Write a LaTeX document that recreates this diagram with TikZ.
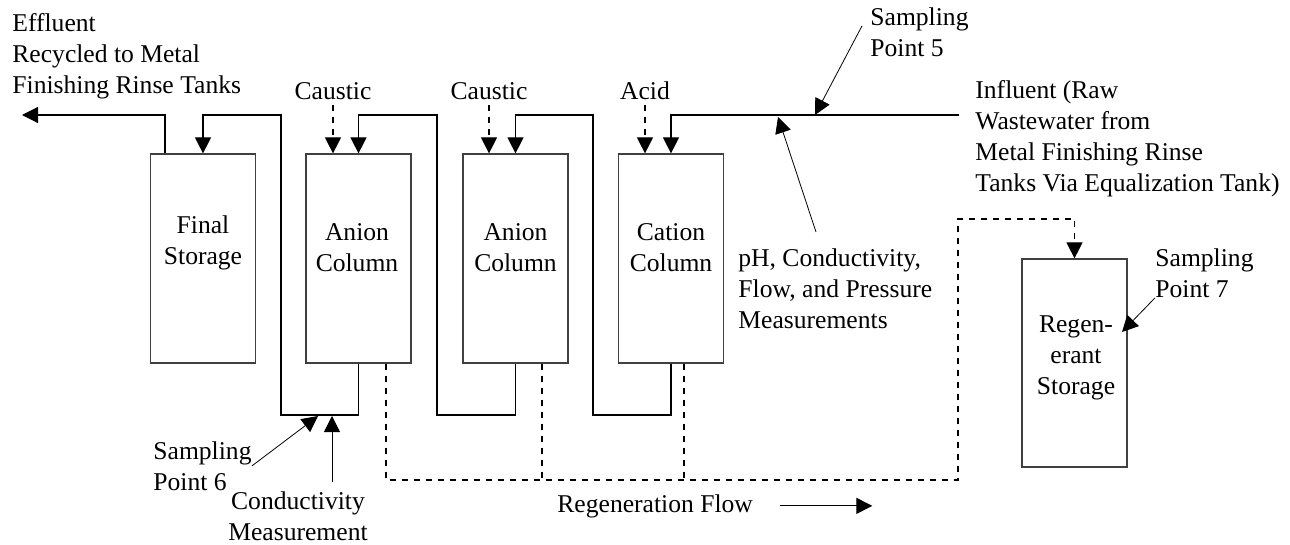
\documentclass[tikz,border=0pt]{standalone}
\usepackage{fontspec}
\setmainfont{Liberation Serif}
\usetikzlibrary{arrows.meta, calc}
\tikzset{tank/.style={draw=black!75, line width=0.6pt, minimum width=52.5pt, minimum height=104.5pt, inner sep=0pt},
  txt/.style={inner sep=0pt, font=\fontsize{12.8}{15.5}\selectfont},
  pipe/.style={line width=0.6pt},
  feed/.style={line width=0.6pt, dashed},
  pointer/.style={line width=0.4pt}}

\begin{document}
\begin{tikzpicture}[x=0.5pt, y=-0.5pt, >={Triangle[length=8pt,width=8pt]}]
    \useasboundingbox (0,0) rectangle (1290,545);
    % tanks and columns
    \node[tank] (fs) at (203,258.5) {};
    \node[tank] (an1) at (358.5,258.5) {};
    \node[tank] (an2) at (515.5,258.5) {};
    \node[tank] (cat) at (671,258.5) {};
    \node[tank, minimum height=104pt] (rs) at (1074.5,363) {};

    \node[txt, anchor=north, align=center] (fs-txt) at (203,215) {Final\\Storage};
    \node[txt, anchor=north, align=center] (an1-txt) at (357,223) {Anion\\Column};
    \node[txt, anchor=north, align=center] (an2-txt) at (515.5,223) {Anion\\Column};
    \node[txt, anchor=north, align=center] (cat-txt) at (671,223) {Cation\\Column};
    \node[txt, anchor=north, align=center] (rs-txt) at (1076,315) {Regen-\\erant\\Storage};

    % labels
    \node[txt, anchor=north west, align=left] (eff-txt) at (12,13) {Effluent\\Recycled to Metal\\Finishing Rinse Tanks};
    \node[txt, anchor=north west, align=left] (sp5) at (870,7) {Sampling\\Point 5};
    \node[txt, anchor=north west, align=left] (infl-txt) at (975,80) {Influent (Raw\\Wastewater from\\Metal Finishing Rinse\\Tanks Via Equalization Tank)};
    \node[txt, anchor=north west, align=left] (ph) at (738,248) {pH, Conductivity,\\Flow, and Pressure\\Measurements};
    \node[txt, anchor=north west, align=left] (sp6) at (153,441) {Sampling\\Point 6};
    \node[txt, anchor=north, align=center] (cond) at (298,491) {Conductivity\\Measurement};
    \node[txt, anchor=north west, align=left] (sp7) at (1155,248) {Sampling\\Point 7};
    \node[txt, anchor=base west] (rflow) at (557,512) {Regeneration Flow};
    \node[txt, anchor=base] (cau1) at (333,100) {Caustic};
    \node[txt, anchor=base] (cau2) at (489,100) {Caustic};
    \node[txt, anchor=base] (acid) at (645,100) {Acid};

    \coordinate (eff) at (22,115);
    \coordinate (infl) at (959,115);
    \coordinate (sp5pt) at (815,115);
    \coordinate (phpt) at (778,117);
    \coordinate (sp6pt) at (318,416);
    \coordinate (condpt) at (332,416);
    \coordinate (sp7pt) at (1122,332);

    % main flow
    \draw[pipe,->] ($(fs.north)+(-38,0)$) |- (eff);
    \draw[pipe,->] (an1.south) |- (281,415) -- (281,115) -| (fs.north);
    \draw[pipe,->] (an2.south) |- (437,415) -- (437,115) -| (an1.north);
    \draw[pipe,->] (cat.south) |- (593,415) -- (593,115) -| (an2.north);
    \draw[pipe,->] (infl) -| (cat.north);

    % chemicals
    \draw[feed,->, shorten <=2pt] (cau1.south) -- (cau1.south |- an1.north);
    \draw[feed,->, shorten <=2pt] (cau2.south) -- (cau2.south |- an2.north);
    \draw[feed,->, shorten <=2pt] (acid.south) -- (acid.south |- cat.north);

    % regeneration
    \draw[feed,->] ($(an1.south)+(27.5,0)$) |- (958,480) -- (958,219) -| (rs.north);
    \draw[feed] ($(an2.south)+(26.5,0)$) -- ++(0,117);
    \draw[feed] ($(cat.south)+(13,0)$) -- ++(0,117);
    \draw[pipe,->] ($(rflow.east)+(27,0)$) -- ++(92,0);

    % sampling and measurement points
    \draw[pointer,->] ([xshift=-4pt,yshift=3pt]sp5.west) -- (sp5pt);
    \draw[pointer,->] ($(ph.north west)+(78,-16)$) -- (phpt);
    \draw[pointer,->] (sp6.east) -- (sp6pt);
    \draw[pointer,->] ($(cond.north -| condpt)+(0,-9)$) -- (condpt);
    \draw[pointer,->] (sp7.south west) -- (sp7pt);
\end{tikzpicture}
\end{document}
